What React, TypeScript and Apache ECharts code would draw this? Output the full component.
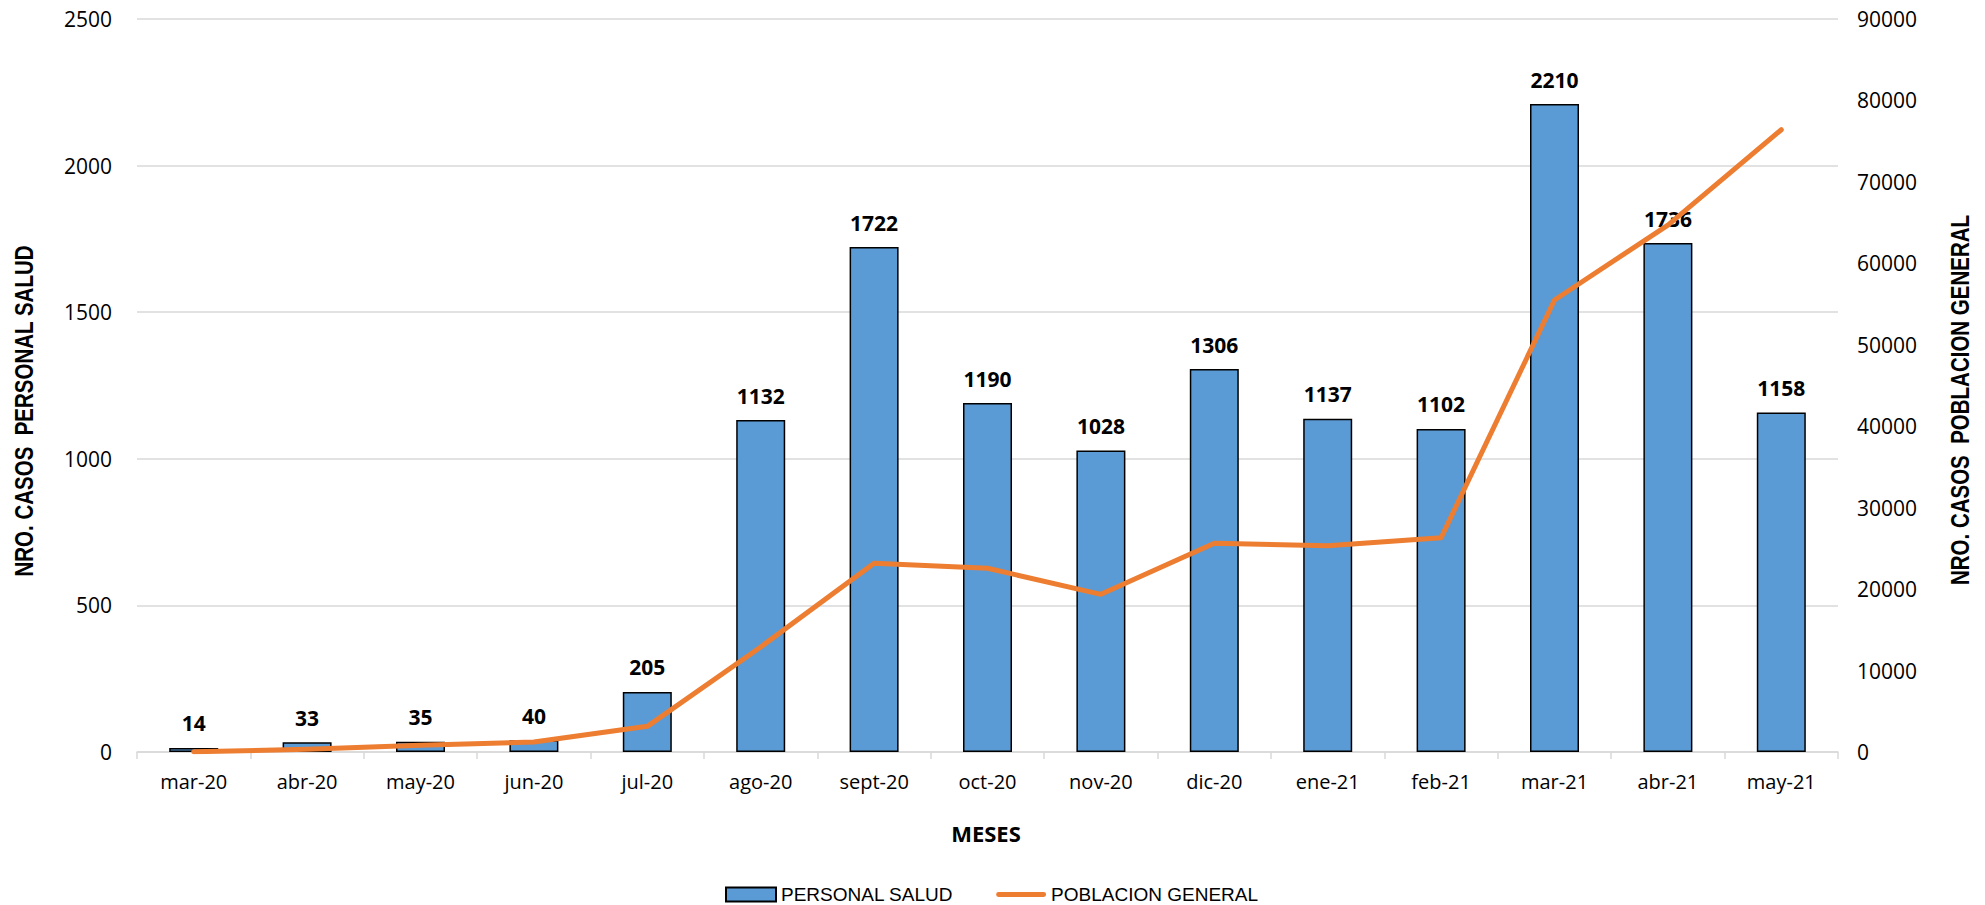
import React, { useEffect, useRef } from "react";
import * as echarts from "echarts";

const categories = ["mar-20", "abr-20", "may-20", "jun-20", "jul-20", "ago-20", "sept-20", "oct-20", "nov-20", "dic-20", "ene-21", "feb-21", "mar-21", "abr-21", "may-21"];
const personalSalud = [14, 33, 35, 40, 205, 1132, 1722, 1190, 1028, 1306, 1137, 1102, 2210, 1736, 1158];
const poblacionGeneral = [40, 330, 820, 1230, 3150, 12900, 23170, 22560, 19360, 25620, 25330, 26310, 55500, 64700, 76400];
const leftTicks = { min: 0, max: 2500, interval: 500 };
const rightTicks = { min: 0, max: 90000, interval: 10000 };

const NARROW = '"Liberation Sans", Arial, sans-serif';
const MAIN = '"Open Sans", "Noto Sans", sans-serif';

export default function App() {
  const ref = useRef<HTMLDivElement>(null);
  useEffect(() => {
    if (!ref.current) return;
    const chart = echarts.init(ref.current, undefined, { renderer: "svg" });
    chart.setOption({
      animation: false,
      backgroundColor: "#ffffff",
      grid: { left: 137, right: 147, top: 19, bottom: 153, containLabel: false },
      legend: {
        left: 720,
        top: 880,
        itemWidth: 50,
        itemHeight: 14,
        itemGap: 43,
        textStyle: { fontFamily: NARROW, fontSize: 19, color: "#000" },
        data: [
          { name: "PERSONAL SALUD", icon: "rect" },
          { name: "POBLACION GENERAL", icon: "path://M0,0h0.01M0,14h0.01M2,4.5h46a2.5,2.5 0 0 1 0,5h-46a2.5,2.5 0 0 1 0,-5z" },
        ],
      },
      xAxis: {
        type: "category",
        data: categories,
        axisLine: { lineStyle: { color: "#D9D9D9", width: 1.5 } },
        axisTick: { show: true, length: 7, lineStyle: { color: "#D9D9D9", width: 1.5 } },
        axisLabel: { fontFamily: MAIN, fontSize: 20, color: "#000", margin: 19 },
      },
      yAxis: [
        {
          type: "value",
          ...leftTicks,
          axisLine: { show: false },
          axisTick: { show: false },
          axisLabel: { fontFamily: MAIN, fontSize: 21, color: "#000", margin: 25, formatter: (v: number) => String(v) },
          splitLine: { lineStyle: { color: "#D9D9D9", width: 1.5 } },
        },
        {
          type: "value",
          ...rightTicks,
          axisLine: { show: false },
          axisTick: { show: false },
          axisLabel: { fontFamily: MAIN, fontSize: 21, color: "#000", margin: 19, formatter: (v: number) => String(v) },
          splitLine: { show: false },
        },
      ],
      series: [
        {
          name: "PERSONAL SALUD",
          type: "bar",
          data: personalSalud,
          barWidth: 49,
          itemStyle: { color: "#5B9BD5", borderColor: "#000", borderWidth: 1.5 },
          label: {
            show: true,
            position: "top",
            distance: 14,
            fontFamily: MAIN,
            fontWeight: "bold",
            fontSize: 21,
            color: "#000",
          },
          z: 2,
        },
        {
          name: "POBLACION GENERAL",
          type: "line",
          yAxisIndex: 1,
          data: poblacionGeneral,
          symbol: "none",
          showSymbol: false,
          lineStyle: { color: "#ED7D31", width: 5, cap: "round", join: "round" },
          itemStyle: { color: "#ED7D31" },
          z: 3,
        },
      ],
      graphic: [
        {
          type: "text",
          x: 24,
          y: 411,
          rotation: Math.PI / 2,
          scaleX: 0.82,
          style: {
            text: "NRO. CASOS  PERSONAL SALUD",
            font: `bold 25px ${NARROW}`,
            fill: "#000",
            textAlign: "center",
            textVerticalAlign: "middle",
            align: "center",
            verticalAlign: "middle",
          },
        },
        {
          type: "text",
          x: 1960,
          y: 400,
          rotation: Math.PI / 2,
          scaleX: 0.82,
          style: {
            text: "NRO. CASOS  POBLACION GENERAL",
            font: `bold 25px ${NARROW}`,
            fill: "#000",
            textAlign: "center",
            textVerticalAlign: "middle",
            align: "center",
            verticalAlign: "middle",
          },
        },
        {
          type: "text",
          x: 986,
          y: 833,
          style: {
            text: "MESES",
            font: `bold 22px ${MAIN}`,
            fill: "#000",
            textAlign: "center",
            textVerticalAlign: "middle",
            align: "center",
            verticalAlign: "middle",
          },
        },
      ],
    });
    return () => chart.dispose();
  }, []);
  return <div ref={ref} style={{ width: 1985, height: 905, position: "absolute", left: 0, top: 0 }} />;
}
